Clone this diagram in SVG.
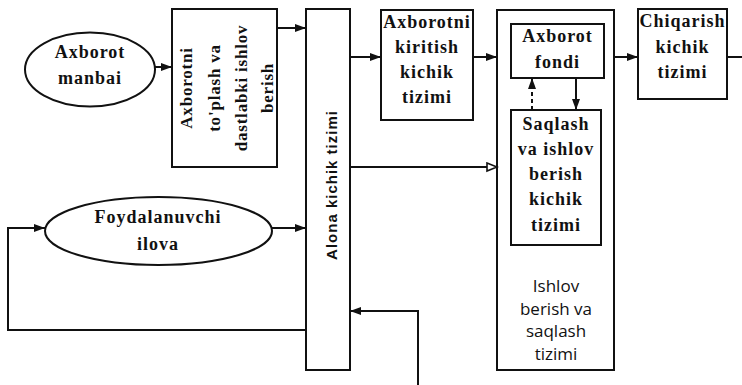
<svg xmlns="http://www.w3.org/2000/svg" width="742" height="385" viewBox="0 0 742 385">
  <style>
    .shape { fill: #ffffff; stroke: #111111; stroke-width: 2; }
    .wire { fill: none; stroke: #111111; stroke-width: 2; }
    .dash { stroke-dasharray: 4 3; }
    .lbl { font-family: "Liberation Serif", "Times New Roman", serif; font-weight: bold; font-size: 18px; letter-spacing: 1px; fill: #111111; text-anchor: middle; }
    .vlbl { font-family: "Liberation Serif", "Times New Roman", serif; font-weight: bold; font-size: 17px; letter-spacing: 0.8px; fill: #111111; text-anchor: middle; }
    .bar { font-family: "Liberation Sans", Arial, sans-serif; font-weight: bold; font-size: 15px; letter-spacing: 1px; fill: #111111; text-anchor: middle; }
    .plain { font-family: "Open Sans", "Noto Sans", sans-serif; font-size: 17px; fill: #111111; text-anchor: middle; }
  </style>
  <defs>
    <marker id="arrow" markerUnits="userSpaceOnUse" markerWidth="12" markerHeight="10" refX="11" refY="4" orient="auto">
      <path d="M0,0 L11,4 L0,8 z" fill="#111111"/>
    </marker>
    <marker id="arrow-open" markerUnits="userSpaceOnUse" markerWidth="13" markerHeight="11" refX="11" refY="5" orient="auto">
      <path d="M1,1 L11,5 L1,9 z" fill="#ffffff" stroke="#111111" stroke-width="1.6"/>
    </marker>
  </defs>
  <rect width="742" height="385" fill="#ffffff"/>

  <!-- source ellipse -->
  <g id="axborot-manbai">
    <ellipse class="shape" cx="90" cy="69.5" rx="65" ry="37"/>
    <text class="lbl" x="90" y="58">Axborot</text>
    <text class="lbl" x="90" y="84">manbai</text>
  </g>

  <!-- collection and preprocessing -->
  <g id="toplash">
    <rect class="shape" x="172" y="9" width="105" height="158"/>
    <text class="vlbl" transform="translate(192 88) rotate(-90)">Axborotni</text>
    <text class="vlbl" transform="translate(220 88) rotate(-90)">to'plash va</text>
    <text class="vlbl" transform="translate(247 88) rotate(-90)">dastlabki ishlov</text>
    <text class="vlbl" transform="translate(273 88) rotate(-90)">berish</text>
  </g>

  <!-- exchange bar -->
  <g id="almashinuv">
    <rect class="shape" x="306" y="9" width="44" height="361"/>
    <text class="bar" transform="translate(337 185) rotate(-90)">Alona kichik tizimi</text>
  </g>

  <!-- user application -->
  <g id="foydalanuvchi">
    <ellipse class="shape" cx="158.5" cy="231" rx="113.5" ry="34"/>
    <text class="lbl" x="158" y="223">Foydalanuvchi</text>
    <text class="lbl" x="158" y="250">ilova</text>
  </g>

  <!-- input subsystem -->
  <g id="kiritish">
    <rect class="shape" x="381" y="10" width="92" height="110"/>
    <text class="lbl" x="427" y="28">Axborotni</text>
    <text class="lbl" x="427" y="53">kiritish</text>
    <text class="lbl" x="427" y="78">kichik</text>
    <text class="lbl" x="427" y="103">tizimi</text>
  </g>

  <!-- processing and storage system -->
  <g id="ishlov-tizimi">
    <rect class="shape" x="497" y="10" width="117" height="360"/>
    <text class="plain" x="556" y="292">Ishlov</text>
    <text class="plain" x="556" y="315">berish va</text>
    <text class="plain" x="556" y="337">saqlash</text>
    <text class="plain" x="556" y="360">tizimi</text>
  </g>

  <g id="axborot-fondi">
    <rect class="shape" x="511" y="24" width="93" height="54"/>
    <text class="lbl" x="557.5" y="42">Axborot</text>
    <text class="lbl" x="557.5" y="68">fondi</text>
  </g>

  <g id="saqlash">
    <rect class="shape" x="511" y="110" width="90" height="135"/>
    <text class="lbl" x="556" y="130">Saqlash</text>
    <text class="lbl" x="556" y="155">va ishlov</text>
    <text class="lbl" x="556" y="180">berish</text>
    <text class="lbl" x="556" y="205">kichik</text>
    <text class="lbl" x="556" y="231">tizimi</text>
  </g>

  <!-- output subsystem -->
  <g id="chiqarish">
    <rect class="shape" x="638" y="9" width="89" height="90"/>
    <text class="lbl" x="682.5" y="27">Chiqarish</text>
    <text class="lbl" x="682.5" y="53">kichik</text>
    <text class="lbl" x="682.5" y="78">tizimi</text>
  </g>

  <!-- connectors, drawn last so they sit above the box fills -->
  <g id="connectors">
    <line class="wire" x1="155" y1="67" x2="172" y2="67" marker-end="url(#arrow)"/>
    <line class="wire" x1="277" y1="28" x2="306" y2="28" marker-end="url(#arrow)"/>
    <line class="wire" x1="350" y1="57" x2="381" y2="57" marker-end="url(#arrow)"/>
    <line class="wire" x1="473" y1="57" x2="497" y2="57" marker-end="url(#arrow)"/>
    <line class="wire" x1="614" y1="57" x2="638" y2="57" marker-end="url(#arrow)"/>
    <line class="wire" x1="727" y1="57" x2="742" y2="57"/>
    <line class="wire" x1="350" y1="167" x2="497" y2="167" marker-end="url(#arrow-open)"/>
    <line class="wire" x1="272" y1="228" x2="306" y2="228" marker-end="url(#arrow)"/>
    <polyline class="wire" points="306,330 8,330 8,228 45,228" marker-end="url(#arrow)"/>
    <polyline class="wire" points="418,385 418,311 350,311" marker-end="url(#arrow)"/>
    <line class="wire dash" x1="532" y1="110" x2="532" y2="78" marker-end="url(#arrow)"/>
    <line class="wire" x1="576" y1="78" x2="576" y2="110" marker-end="url(#arrow)"/>
  </g>
</svg>
